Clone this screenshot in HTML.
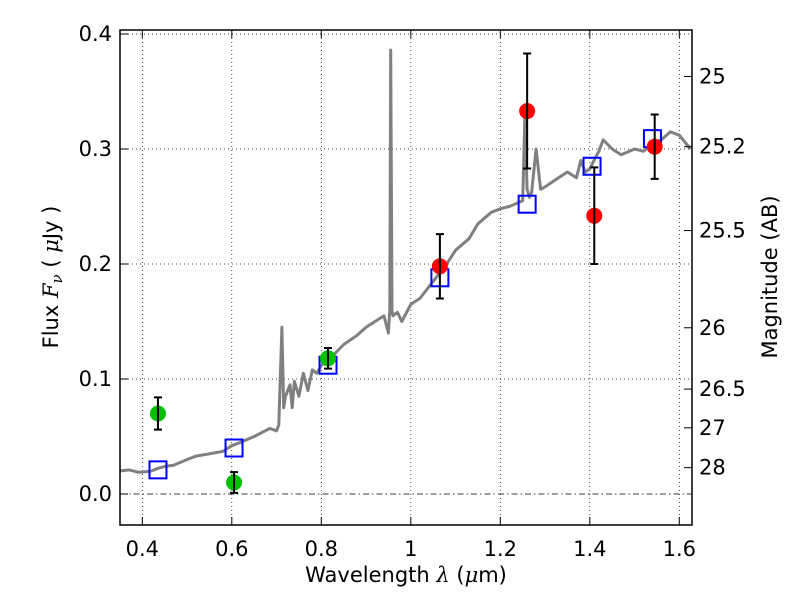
<!DOCTYPE html>
<html><head><meta charset="utf-8"><style>
body{margin:0;background:#fff}
svg text{font-family:"DejaVu Sans","Liberation Sans",sans-serif;fill:#000}
</style></head><body>
<svg id="chart" width="800" height="600" viewBox="0 0 800 600">
<rect x="0" y="0" width="800" height="600" fill="#fff"/>
<g id="grid"></g>
<g id="spec"></g>
<g id="pts"></g>
<rect x="120" y="30" width="572" height="495" fill="none" stroke="#000" stroke-width="1.5"/>
<g id="axes"></g>
<text x="58" y="277" font-size="21" text-anchor="middle" transform="rotate(-90 58 277)">Flux  <tspan font-style="italic" font-family="DejaVu Serif, serif">F</tspan><tspan font-style="italic" font-size="15" dy="4" font-family="DejaVu Serif, serif">ν</tspan><tspan dy="-4">  ( </tspan><tspan font-style="italic" font-family="DejaVu Serif, serif">μ</tspan>Jy )</text>
<text x="406" y="582" font-size="21" text-anchor="middle">Wavelength  <tspan font-style="italic" font-family="DejaVu Serif, serif">λ</tspan> (<tspan font-style="italic" font-family="DejaVu Serif, serif">μ</tspan>m)</text>
<text x="777" y="277" font-size="21" text-anchor="middle" transform="rotate(-90 777 277)">Magnitude (AB)</text>
</svg>
<script>
const specLam=[0.35,0.37,0.39,0.40,0.42,0.433,0.45,0.47,0.50,0.52,0.55,0.58,0.60,0.62,0.65,0.685,0.70,0.705,0.712,0.716,0.72,0.73,0.735,0.74,0.75,0.76,0.77,0.78,0.79,0.80,0.82,0.85,0.88,0.90,0.92,0.94,0.95,0.953,0.955,0.958,0.96,0.97,0.98,1.0,1.02,1.05,1.08,1.10,1.13,1.15,1.18,1.20,1.22,1.25,1.255,1.26,1.265,1.27,1.28,1.29,1.30,1.33,1.35,1.37,1.38,1.39,1.40,1.42,1.43,1.45,1.47,1.50,1.52,1.54,1.56,1.58,1.60,1.625];
const specF=[0.020,0.021,0.019,0.019,0.020,0.022,0.024,0.025,0.030,0.033,0.035,0.037,0.042,0.045,0.050,0.057,0.055,0.060,0.145,0.075,0.085,0.095,0.075,0.098,0.085,0.105,0.090,0.108,0.105,0.112,0.118,0.130,0.138,0.145,0.150,0.155,0.140,0.160,0.386,0.160,0.155,0.158,0.150,0.165,0.170,0.185,0.200,0.212,0.222,0.235,0.245,0.248,0.250,0.255,0.330,0.265,0.258,0.262,0.300,0.265,0.267,0.275,0.280,0.275,0.290,0.280,0.283,0.298,0.308,0.300,0.295,0.300,0.298,0.305,0.308,0.315,0.312,0.300];
const greenLam=[0.435,0.605,0.815];
const greenF=[0.070,0.010,0.118];
const greenErr=[0.014,0.009,0.009];
const redLam=[1.065,1.26,1.41,1.545];
const redF=[0.198,0.333,0.242,0.302];
const redErr=[0.028,0.050,0.042,0.028];
const modelLam=[0.435,0.605,0.815,1.065,1.26,1.405,1.54];
const modelF=[0.021,0.040,0.112,0.188,0.252,0.285,0.309];
const xTicks=[0.4,0.6,0.8,1.0,1.2,1.4,1.6];
const xTickLabels=["0.4","0.6","0.8","1","1.2","1.4","1.6"];
const yTicks=[0.0,0.1,0.2,0.3,0.4];
const yTickLabels=["0.0","0.1","0.2","0.3","0.4"];
const magTicks=[25,25.2,25.5,26,26.5,27,28];
const magLabels=["25","25.2","25.5","26","26.5","27","28"];

const X=l=>142.3+(l-0.4)*447.5;
const Y=f=>494-f*1150;
const NS="http://www.w3.org/2000/svg";
function mk(tag,attrs,parent){const e=document.createElementNS(NS,tag);for(const k in attrs)e.setAttribute(k,attrs[k]);parent.appendChild(e);return e;}
const grid=document.getElementById('grid'),spec=document.getElementById('spec'),pts=document.getElementById('pts'),axes=document.getElementById('axes');

xTicks.forEach((t,i)=>{
  const g=mk('line',{x1:X(t),x2:X(t),y1:30,y2:525,stroke:'#000','stroke-width':0.7,'stroke-dasharray':'1,3'},grid);
  
  
  mk('line',{x1:X(t),x2:X(t),y1:525,y2:517,stroke:'#000','stroke-width':1},axes);
  mk('line',{x1:X(t),x2:X(t),y1:30,y2:38,stroke:'#000','stroke-width':1},axes);
  const tx=mk('text',{x:X(t),y:556,'font-size':21,'text-anchor':'middle'},axes);
  tx.textContent=xTickLabels[i];
  
  
});
yTicks.forEach((t,i)=>{
  const g=mk('line',{x1:120,x2:692,y1:Y(t),y2:Y(t),stroke:'#000','stroke-width':0.7,'stroke-dasharray':t===0?'6,3,1.5,3':'1,3'},grid);
  
  
  mk('line',{x1:120,x2:128,y1:Y(t),y2:Y(t),stroke:'#000','stroke-width':1},axes);
  const tx=mk('text',{x:112,y:Y(t)+7,'font-size':21,'text-anchor':'end'},axes);
  tx.textContent=yTickLabels[i];
  
  
});
magTicks.forEach((m,i)=>{
  const f=Math.pow(10,(23.9-m)/2.5);
  mk('line',{x1:684,x2:692,y1:Y(f),y2:Y(f),stroke:'#000','stroke-width':1},axes);
  const tx=mk('text',{x:699,y:Y(f)+7,'font-size':21},axes);
  tx.textContent=magLabels[i];
  
  
});

const line=mk('polyline',{points:specLam.map((l,i)=>X(l).toFixed(1)+','+Y(specF[i]).toFixed(1)).join(' '),fill:'none',stroke:'#808080','stroke-width':3,'stroke-linejoin':'round'},spec);



modelLam.forEach((l,i)=>{
  const r=mk('rect',{x:X(l)-8.5,y:Y(modelF[i])-8.5,width:17,height:17,fill:'none',stroke:'#0000ff','stroke-width':2},pts);
  
  
});
function pt(lam,f,err,color,name){
  lam.forEach((l,i)=>{
    const x=X(l),y1=Y(f[i]+err[i]),y2=Y(f[i]-err[i]);
    const c=mk('circle',{cx:x,cy:Y(f[i]),r:8,fill:color},pts);
    
    
    const e=mk('path',{d:`M${x},${y1}V${y2}M${x-4},${y1}H${x+4}M${x-4},${y2}H${x+4}`,stroke:'#000','stroke-width':2,fill:'none'},pts);
    
    
  });
}
pt(greenLam,greenF,greenErr,'#00c000','optical-data-point');
pt(redLam,redF,redErr,'#ff0000','nir-data-point');
</script>
</body></html>
